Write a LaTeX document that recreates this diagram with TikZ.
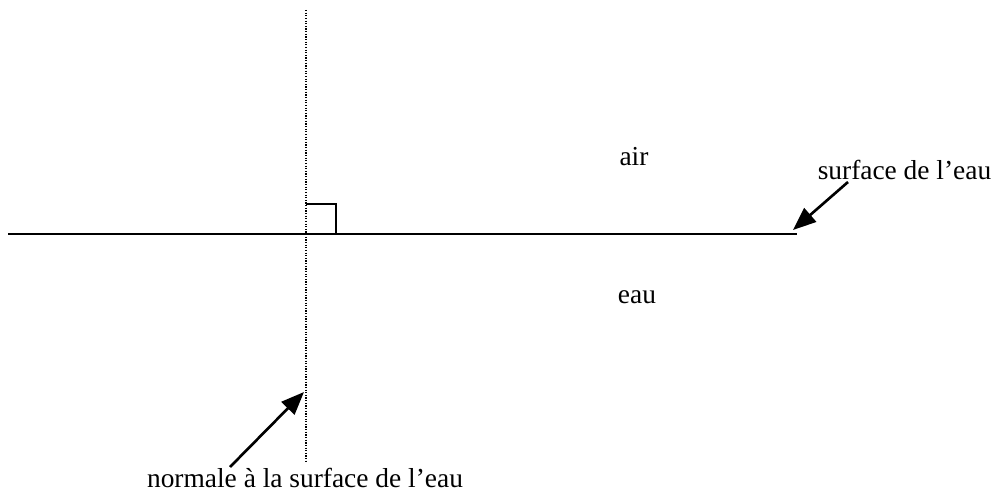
\documentclass[tikz,border=0pt]{standalone}
\usepackage{fontspec}
\setmainfont{Liberation Serif}
\usetikzlibrary{arrows.meta}
\tikzset{surface/.style={draw=black,line width=1.3pt},
 normalline/.style={draw=black,line width=.7pt,dash pattern=on .7pt off .8pt},
 pointer/.style={draw=black,line width=1.5pt,-{Triangle[length=.46cm,width=.36cm]}},
 lbl/.style={font=\fontsize{15.6}{18}\selectfont,inner sep=0pt},
 every picture/.style={line join=miter,line cap=butt}}

\begin{document}
\begin{tikzpicture}[]
\useasboundingbox (0,0) rectangle (20.02,-9.82);
\coordinate (sL) at (0.16,-4.68);
\coordinate (sR) at (15.94,-4.68);
\coordinate (nT) at (6.12,-0.20);
\coordinate (nB) at (6.12,-9.24);
\draw[normalline] (nT) -- (nB);
\draw[surface] (sL) -- (sR);
\draw[draw=black,line width=.9pt] (6.12,-4.08) -- (6.72,-4.08) -- (6.72,-4.68);
\node[lbl] (air) at (12.68,-3.14) {air};
\node[lbl] (eau) at (12.74,-5.94) {eau};
\node[lbl] (surfLbl) at (18.09,-3.40) {surface de l’eau};
\node[lbl] (normLbl) at (6.10,-9.56) {normale à la surface de l’eau};
\coordinate (sTail) at (16.96,-3.64);
\coordinate (sHead) at (15.86,-4.60);
\coordinate (nTail) at (4.60,-9.34);
\coordinate (nHead) at (6.08,-7.84);
\draw[pointer] (sTail) -- (sHead);
\draw[pointer] (nTail) -- (nHead);
\end{tikzpicture}
\end{document}
